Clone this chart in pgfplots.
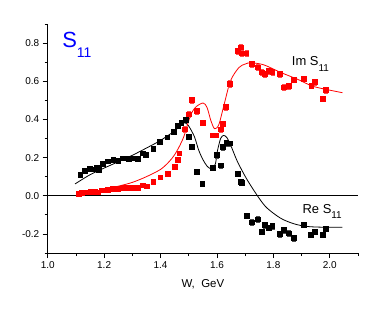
\documentclass[border=0pt]{standalone}
\usepackage{pgfplots}
\pgfplotsset{compat=1.18}
\usepackage{fontspec}
\setmainfont{Liberation Sans}
\definecolor{ored}{RGB}{255,0,0}
\definecolor{oblue}{RGB}{0,0,255}
\begin{document}
\begin{tikzpicture}
\useasboundingbox (-47.7bp,-61bp) rectangle (333.3bp,253bp);
\begin{axis}[
 scale only axis, width=310.3bp, height=229bp,
 at={(0,0)}, anchor=south west,
 xmin=1.0, xmax=2.1, ymin=-0.3, ymax=0.9,
 axis x line=bottom, axis y line=left,
 axis line style={-, line width=0.8pt},
 tick align=outside, major tick length=5bp, minor tick length=3bp,
 tick style={line width=0.7pt, black},
 xtick={1.0,1.2,1.4,1.6,1.8,2.0}, minor xtick={1.1,1.3,1.5,1.7,1.9,2.1},
 ytick={-0.2,0,0.2,0.4,0.6,0.8}, minor ytick={-0.3,-0.1,0.1,0.3,0.5,0.7,0.9},
 tick label style={font=\fontsize{10}{11}\selectfont},
 /pgf/number format/.cd, fixed, fixed zerofill, precision=1, assume math mode=true,
 /pgfplots/.cd,
 xlabel={W,\ \ GeV},
 xlabel style={font=\fontsize{11.5}{12}\selectfont, at={(axis description cs:0.5,0)}, anchor=base, yshift=-34bp},
 clip=false,
]
\addplot[black, line width=0.9pt, forget plot] coordinates {(1.0,0) (2.1,0)};
% fit curves
\addplot[black, line width=0.8pt, smooth, tension=0.5] coordinates {
(1.097,0.062) (1.15,0.11) (1.20,0.145) (1.25,0.178) (1.30,0.212) (1.35,0.25) (1.40,0.29) (1.45,0.34) (1.475,0.375) (1.487,0.382) (1.50,0.365) (1.52,0.31) (1.535,0.24) (1.55,0.19) (1.565,0.155) (1.577,0.142) (1.585,0.14) (1.595,0.17) (1.601,0.23) (1.613,0.300) (1.624,0.316) (1.635,0.305) (1.648,0.268) (1.672,0.181) (1.707,0.084) (1.749,-0.012) (1.778,-0.065) (1.826,-0.118) (1.873,-0.147) (1.92,-0.161) (1.98,-0.165) (2.045,-0.165)};
\addplot[ored, line width=0.8pt, smooth, tension=0.5] coordinates {
(1.10,0.0) (1.15,0.016) (1.20,0.033) (1.25,0.05) (1.30,0.07) (1.35,0.1) (1.40,0.138) (1.43,0.178) (1.45,0.215) (1.47,0.268) (1.485,0.32) (1.506,0.42) (1.525,0.465) (1.551,0.486) (1.565,0.462) (1.579,0.391) (1.592,0.351) (1.607,0.374) (1.624,0.47) (1.648,0.602) (1.678,0.672) (1.70,0.69) (1.72,0.697) (1.766,0.686) (1.826,0.646) (1.885,0.611) (1.944,0.572) (2.045,0.54)};
% Re S11 data
\addplot[only marks, black, mark=square*, mark size=2.4pt, mark options={solid, line width=0pt},
 error bars/.cd, y dir=both, y explicit, error bar style={line width=0.5pt, black!70}, error mark options={rotate=90, mark size=2pt, line width=0.5pt, black!70}]
 table[x=x, y=y, y error=e] {
x y e
1.116 0.110 0.0
1.133 0.131 0.0
1.150 0.140 0.0
1.166 0.137 0.0
1.174 0.145 0.0
1.181 0.133 0.0
1.195 0.165 0.0
1.215 0.179 0.0
1.233 0.188 0.0
1.251 0.184 0.0
1.267 0.195 0.0
1.287 0.193 0.0
1.302 0.195 0.0
1.319 0.193 0.0
1.338 0.221 0.0
1.349 0.212 0.0
1.375 0.247 0.0
1.399 0.280 0.0
1.425 0.305 0.0
1.447 0.336 0.0
1.462 0.367 0.0
1.474 0.382 0.0
1.489 0.395 0.0
1.500 0.308 0.0
1.511 0.257 0.0
1.529 0.126 0.015
1.549 0.062 0.013
1.585 0.145 0.008
1.601 0.212 0.015
1.613 0.158 0.012
1.622 0.256 0.015
1.634 0.277 0.015
1.645 0.274 0.012
1.674 0.114 0.012
1.684 0.072 0.012
1.688 0.067 0.012
1.706 -0.105 0.015
1.723 -0.140 0.015
1.745 -0.125 0.015
1.761 -0.188 0.015
1.770 -0.153 0.015
1.784 -0.167 0.015
1.797 -0.160 0.015
1.823 -0.200 0.015
1.839 -0.179 0.015
1.855 -0.198 0.015
1.872 -0.223 0.015
1.909 -0.155 0.012
1.934 -0.205 0.012
1.948 -0.189 0.012
1.977 -0.205 0.012
1.987 -0.176 0.012
};
% Im S11 data
\addplot[only marks, ored, mark=square*, mark size=2.4pt, mark options={solid, line width=0pt},
 error bars/.cd, y dir=both, y explicit, error bar style={line width=0.5pt, ored!70}, error mark options={rotate=90, mark size=2pt, line width=0.5pt, ored!70}]
 table[x=x, y=y, y error=e] {
x y e
1.112 0.009 0.0
1.121 0.014 0.0
1.135 0.017 0.0
1.153 0.019 0.0
1.168 0.019 0.0
1.180 0.017 0.0
1.192 0.028 0.0
1.213 0.032 0.0
1.231 0.037 0.0
1.249 0.037 0.0
1.269 0.039 0.0
1.288 0.039 0.0
1.304 0.039 0.0
1.321 0.040 0.0
1.337 0.054 0.0
1.352 0.049 0.0
1.375 0.074 0.0
1.400 0.096 0.0
1.426 0.116 0.0
1.450 0.151 0.0
1.462 0.186 0.0
1.467 0.221 0.0
1.488 0.347 0.015
1.500 0.426 0.015
1.512 0.502 0.015
1.530 0.444 0.015
1.550 0.383 0.013
1.585 0.316 0.010
1.597 0.316 0.010
1.613 0.347 0.012
1.622 0.375 0.012
1.632 0.465 0.015
1.645 0.586 0.018
1.675 0.757 0.015
1.684 0.777 0.015
1.690 0.746 0.015
1.705 0.746 0.015
1.723 0.689 0.015
1.745 0.672 0.015
1.761 0.646 0.015
1.769 0.637 0.015
1.784 0.654 0.015
1.797 0.649 0.015
1.823 0.637 0.015
1.839 0.567 0.015
1.855 0.575 0.015
1.873 0.607 0.012
1.909 0.611 0.012
1.935 0.575 0.012
1.948 0.596 0.015
1.977 0.505 0.010
1.987 0.554 0.015
};
\node[anchor=base west, inner sep=0pt, text=oblue] at (axis cs:1.051,0.779) {\fontsize{22}{24}\selectfont S\raisebox{-10bp}{\fontsize{14}{16}\selectfont 11}};
\node[anchor=base west, inner sep=0pt] at (axis cs:1.865,0.681) {\fontsize{13}{14}\selectfont Im S\raisebox{-6bp}{\fontsize{10}{11}\selectfont 11}};
\node[anchor=base west, inner sep=0pt] at (axis cs:1.903,-0.095) {\fontsize{13}{14}\selectfont Re S\raisebox{-5bp}{\fontsize{10}{11}\selectfont 11}};
\end{axis}
\end{tikzpicture}
\end{document}
